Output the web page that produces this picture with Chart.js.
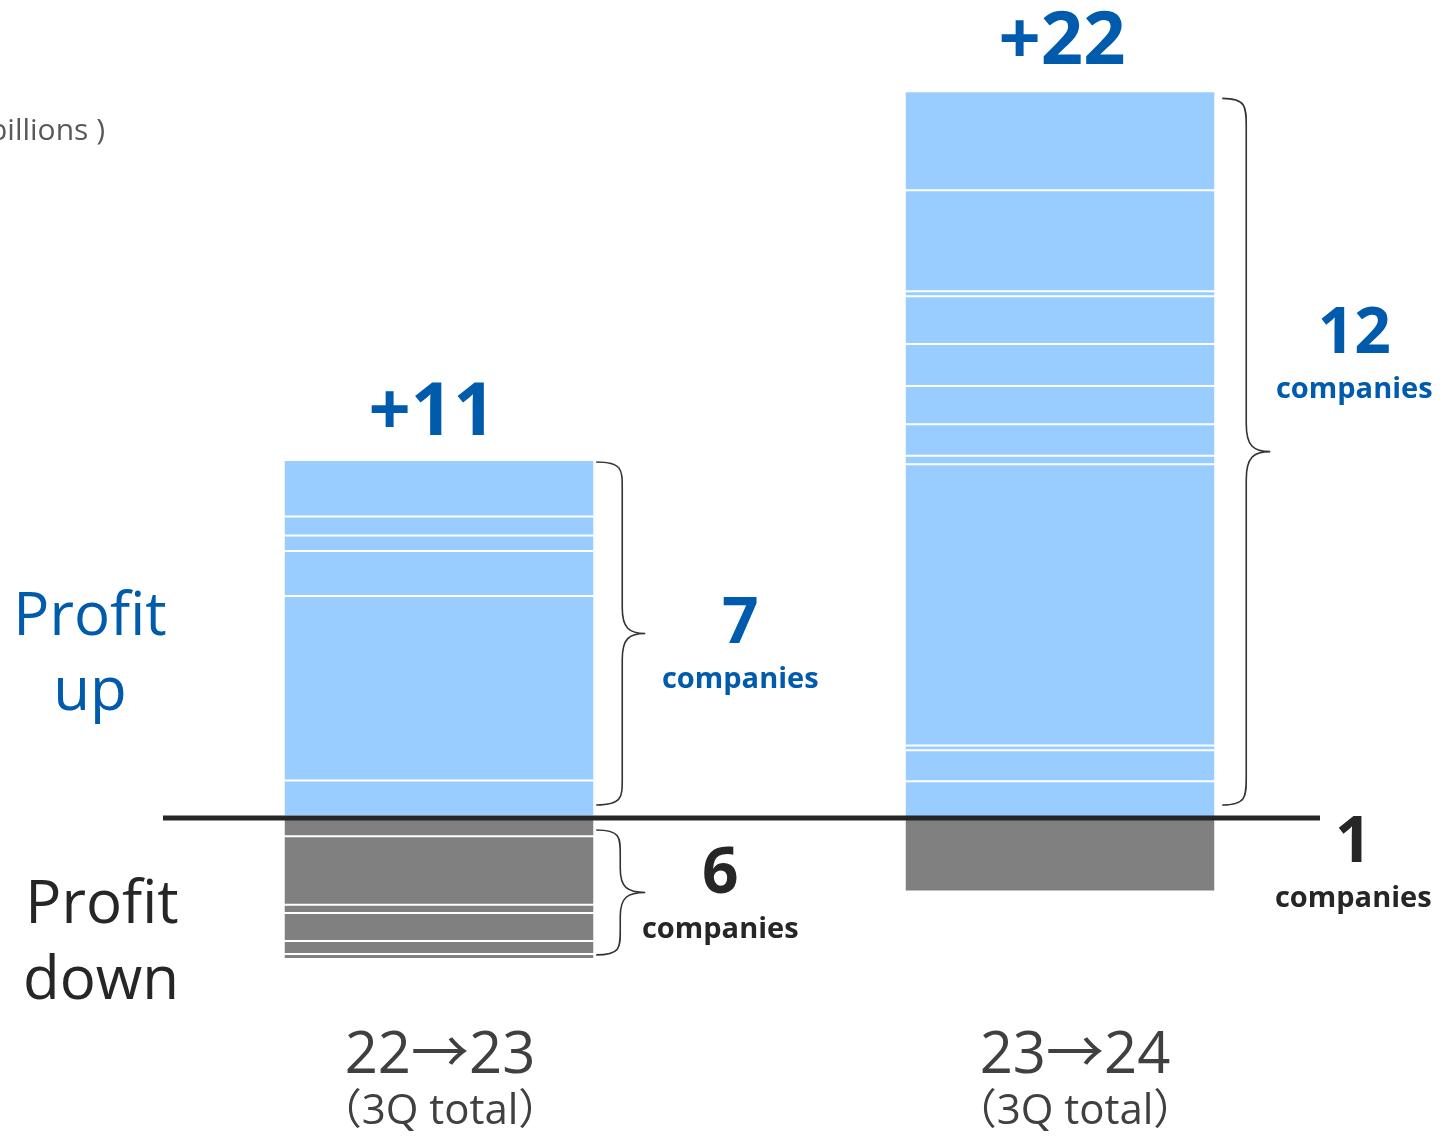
<!DOCTYPE html>
<html>
<head>
<meta charset="utf-8">
<script src="https://cdn.jsdelivr.net/npm/chart.js@4.4.1/dist/chart.umd.min.js"></script>
<style>
  html, body { margin: 0; padding: 0; background: #ffffff; }
  #wrap { width: 1446px; height: 1138px; position: relative; }
</style>
</head>
<body>
<div id="wrap"><canvas id="c"></canvas></div>
<script>
// ---- data ----
const categories = ["22→23", "23→24"];
const categorySub = ["（3Q total）", "（3Q total）"];
// profit-up companies, segment values from the zero line upward
const upLeft  = [0.05, 1.09, 5.59, 1.36, 0.47, 0.58, 1.71];
const upRight = [1.11, 0.94, 0.15, 8.52, 0.26, 0.95, 1.16, 1.27, 1.45, 0.15, 3.06, 3.00];
// profit-down companies, segment values from the zero line downward
const downLeft  = [-0.55, -2.08, -0.25, -0.85, -0.39, -0.15];
const downRight = [-2.23];
const totalLabels = ["+11", "+22"];
const upCounts = ["7", "12"];
const downCounts = ["6", "1"];
const countWord = "companies";
const unitLabel = "（Unit: ¥ billions )";

const BLUE_BAR = "#99CCFF";
const GREY_BAR = "#808080";
const BLUE_TXT = "#005BAC";
const DARK_TXT = "#262626";

const datasets = [];
const nUp = Math.max(upLeft.length, upRight.length);
for (let i = 0; i < nUp; i++) {
  datasets.push({
    label: "up" + i,
    data: [upLeft[i] ?? null, upRight[i] ?? null],
    backgroundColor: BLUE_BAR,
    borderColor: "#ffffff",
    borderWidth: 1,
    borderSkipped: false,
    stack: "s"
  });
}
const nDown = Math.max(downLeft.length, downRight.length);
for (let j = 0; j < nDown; j++) {
  datasets.push({
    label: "down" + j,
    data: [downLeft[j] ?? null, downRight[j] ?? null],
    backgroundColor: GREY_BAR,
    borderColor: "#ffffff",
    borderWidth: 1,
    borderSkipped: false,
    stack: "s"
  });
}

const sum = a => a.reduce((s, v) => s + v, 0);
const upTotals = [sum(upLeft), sum(upRight)];
const downTotals = [sum(downLeft), sum(downRight)];

function brace(ctx, x0, xm, xt, yTop, yBot, r) {
  const yMid = (yTop + yBot) / 2;
  ctx.beginPath();
  ctx.moveTo(x0, yTop);
  ctx.bezierCurveTo(xm, yTop, xm, yTop + r * 0.3, xm, yTop + r);
  ctx.lineTo(xm, yMid - r);
  ctx.bezierCurveTo(xm, yMid - r * 0.2, xm + (xt - xm) * 0.3, yMid, xt, yMid);
  ctx.bezierCurveTo(xm + (xt - xm) * 0.3, yMid, xm, yMid + r * 0.2, xm, yMid + r);
  ctx.lineTo(xm, yBot - r);
  ctx.bezierCurveTo(xm, yBot - r * 0.3, xm, yBot, x0, yBot);
  ctx.stroke();
}

const FONT = "'Open Sans', 'Noto Sans', 'Noto Sans CJK JP', sans-serif";

const decor = {
  id: "decor",
  afterDatasetsDraw(chart) {
    const ctx = chart.ctx;
    const xs = chart.scales.x, ys = chart.scales.y;
    const y0 = ys.getPixelForValue(0);
    const meta = chart.getDatasetMeta(0);
    const barW = meta.data[0].width;
    ctx.save();

    // zero line
    ctx.strokeStyle = DARK_TXT;
    ctx.lineWidth = 5;
    ctx.beginPath();
    ctx.moveTo(xs.left + 34.5, y0);
    ctx.lineTo(xs.right - 50.5, y0);
    ctx.stroke();

    // braces
    ctx.strokeStyle = "#333333";
    ctx.lineWidth = 1.6;
    const cx0 = xs.getPixelForValue(0), cx1 = xs.getPixelForValue(1);
    const r0 = cx0 + barW / 2, r1 = cx1 + barW / 2;
    brace(ctx, r0 + 2, r0 + 28, r0 + 51, ys.getPixelForValue(upTotals[0]) + 2, y0 - 13, 26);
    brace(ctx, r0 + 2, r0 + 26, r0 + 51, y0 + 12, ys.getPixelForValue(downTotals[0]) - 4, 24);
    brace(ctx, r1 + 7, r1 + 31, r1 + 55, ys.getPixelForValue(upTotals[1]) + 7, y0 - 13, 28);

    ctx.textAlign = "center";
    ctx.textBaseline = "alphabetic";

    // totals above bars
    ctx.fillStyle = BLUE_TXT;
    ctx.font = "bold 74px " + FONT;
    ctx.fillText(totalLabels[0], cx0 - 7, ys.getPixelForValue(upTotals[0]) - 25);
    ctx.fillText(totalLabels[1], cx1 + 2, ys.getPixelForValue(upTotals[1]) - 27);

    // company counts
    function count(num, x, yNum, color) {
      ctx.fillStyle = color;
      ctx.font = "bold 64px " + FONT;
      ctx.fillText(num, x, yNum);
      ctx.font = "bold 29px " + FONT;
      ctx.fillText(countWord, x, yNum + 45);
    }
    count(upCounts[0], r0 + 146, 643, BLUE_TXT);
    count(upCounts[1], r1 + 139, 353, BLUE_TXT);
    count(downCounts[0], r0 + 126, 893, DARK_TXT);
    count(downCounts[1], r1 + 138, 862, DARK_TXT);

    // side labels
    ctx.font = "60px " + FONT;
    ctx.fillStyle = BLUE_TXT;
    ctx.fillText("Profit", 90, 635);
    ctx.fillText("up", 90, 710);
    ctx.fillStyle = DARK_TXT;
    ctx.fillText("Profit", 102, 923);
    ctx.fillText("down", 101, 999);

    // unit label (partly off canvas)
    ctx.textAlign = "right";
    ctx.fillStyle = "#595959";
    ctx.font = "30px " + FONT;
    ctx.fillText(unitLabel, 105, 140);

    // category labels
    ctx.textAlign = "center";
    ctx.fillStyle = "#404040";
    const offs = [1, 15];
    categories.forEach((c, i) => {
      const x = xs.getPixelForValue(i) + offs[i];
      ctx.font = "58px " + FONT;
      ctx.fillText(c, x, 1073);
      ctx.font = "42px " + FONT;
      ctx.fillText(categorySub[i], x, 1124);
    });
    ctx.restore();
  }
};

new Chart(document.getElementById("c"), {
  type: "bar",
  data: { labels: categories, datasets },
  options: {
    responsive: true,
    maintainAspectRatio: false,
    animation: false,
    layout: { padding: { left: 128.5, right: 75.5, top: 9.5, bottom: 138.5 } },
    datasets: { bar: { categoryPercentage: 1.0, barPercentage: 0.5 } },
    plugins: { legend: { display: false }, tooltip: { enabled: false }, title: { display: false } },
    scales: {
      x: { display: false, stacked: true },
      y: { display: false, stacked: true, min: -5.5, max: 24.5 }
    }
  },
  plugins: [decor]
});
</script>
</body>
</html>
